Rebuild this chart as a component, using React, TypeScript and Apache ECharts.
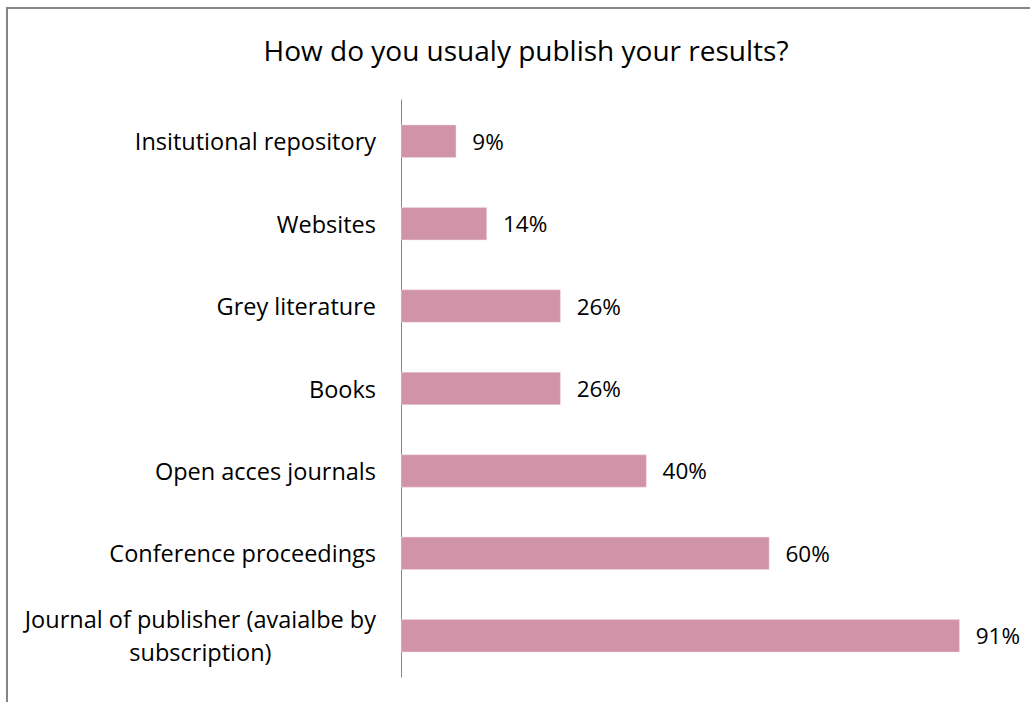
import React, { useEffect, useRef } from "react";
import * as echarts from "echarts";

const categories = [
  "Journal of publisher (avaialbe by\nsubscription)",
  "Conference proceedings",
  "Open acces journals",
  "Books",
  "Grey literature",
  "Websites",
  "Insitutional repository",
];
const values = [91, 60, 40, 26, 26, 14, 9];
const titleText = "How do you usualy publish your results?";

const FONT = "Open Sans";

export default function App() {
  const ref = useRef<HTMLDivElement>(null);
  useEffect(() => {
    document.body.style.margin = "0";
    const chart = echarts.init(ref.current!, undefined, { renderer: "svg" });
    chart.setOption({
      animation: false,
      backgroundColor: "#ffffff",
      title: {
        text: titleText,
        left: 521,
        textAlign: "center",
        top: 31,
        textStyle: { fontFamily: FONT, fontSize: 28, fontWeight: "normal", color: "#000" },
      },
      graphic: [
        {
          type: "rect",
          shape: { x: 7, y: 8, width: 1200, height: 900 },
          style: { fill: "none", stroke: "#868686", lineWidth: 2 },
          silent: true,
        },
      ],
      grid: { left: 401, right: 15, top: 100, bottom: 25, containLabel: false },
      xAxis: {
        type: "value",
        min: 0,
        max: 100,
        show: false,
        splitLine: { show: false },
      },
      yAxis: {
        type: "category",
        data: categories,
        axisLine: { show: true, lineStyle: { color: "#868686", width: 1 } },
        axisTick: { show: false },
        axisLabel: {
          margin: 25,
          fontFamily: FONT,
          fontSize: 23.5,
          color: "#000",
          align: "right",
          formatter: (v: string) =>
            v
              .split("\n")
              .map((l) => `{c|${l}}`)
              .join("\n"),
          rich: {
            c: { align: "center", fontFamily: FONT, fontSize: 23.5, color: "#000", lineHeight: 33 },
          },
        },
      },
      series: [
        {
          type: "bar",
          data: values,
          barWidth: "40%",
          itemStyle: { color: "#D193A8", borderColor: "#F5DCE4", borderWidth: 0.5 },
          label: {
            show: true,
            position: "right",
            distance: 16,
            formatter: "{c}%",
            fontFamily: FONT,
            fontSize: 22.5,
            color: "#000",
          },
        },
      ],
    });
    return () => chart.dispose();
  }, []);
  return <div ref={ref} style={{ width: 1030, height: 702 }} />;
}
